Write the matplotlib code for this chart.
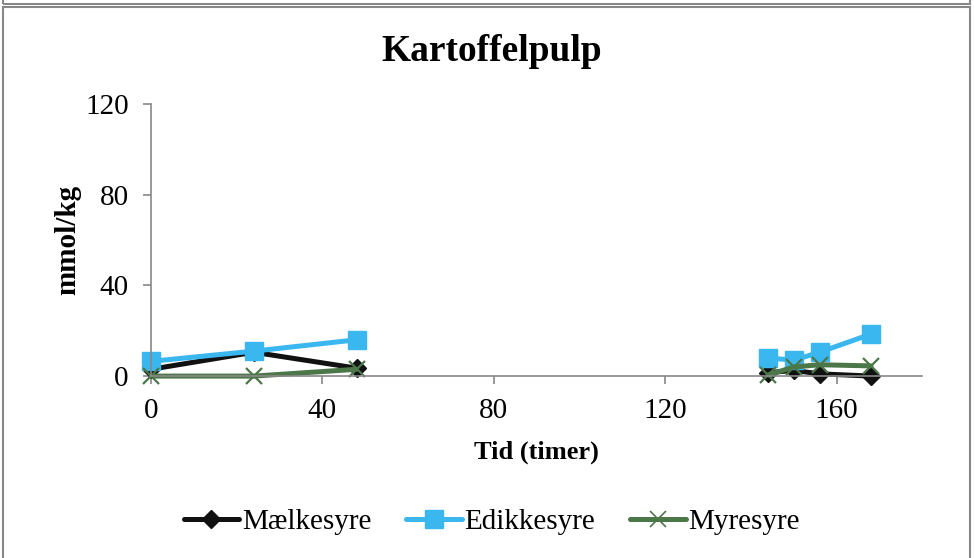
import matplotlib.pyplot as plt
from matplotlib.patches import Rectangle
from matplotlib.lines import Line2D

plt.rcParams["font.family"] = ["Liberation Serif", "DejaVu Serif"]

# sampling times in hours, two runs separated by a pause
tid_a = [0, 24, 48]
tid_b = [144, 150, 156, 168]

maelkesyre_a = [3.0, 10.5, 3.5]
maelkesyre_b = [1.5, 2.5, 1.0, 0.0]
edikkesyre_a = [6.5, 11.0, 16.0]
edikkesyre_b = [8.0, 7.0, 10.5, 18.5]
myresyre_a = [0.0, 0.0, 3.0]
myresyre_b = [0.5, 4.0, 5.0, 4.5]

series = [
    ("Mælkesyre", maelkesyre_a, maelkesyre_b, "#111111", "D", 9),
    ("Edikkesyre", edikkesyre_a, edikkesyre_b, "#3BB7F0", "s", 13),
    ("Myresyre", myresyre_a, myresyre_b, "#4B7749", "x", 11),
]

fig = plt.figure(figsize=(9.74, 5.58), dpi=100)

# chart frame plus the edge of the chart above it
fig.patches.append(Rectangle((0.003, -0.01), 0.993, 0.997, transform=fig.transFigure,
                             fill=False, edgecolor="#888888", lw=1.5))
fig.patches.append(Rectangle((0.003, 0.992), 0.993, 0.05, transform=fig.transFigure,
                             fill=False, edgecolor="#888888", lw=1.5))

ax = fig.add_axes([0.155, 0.326, 0.792, 0.488])

handles = []
for name, ya, yb, color, marker, ms in series:
    mew = 1.6 if marker == "x" else 1
    for xs, ys in ((tid_a, ya), (tid_b, yb)):
        ax.plot(xs, ys, color=color, lw=3.6, marker=marker, markersize=ms,
                markeredgewidth=mew, markeredgecolor=color, solid_capstyle="round")
    handles.append(Line2D([], [], color=color, lw=3.6, marker=marker, markersize=ms,
                          markeredgewidth=1.2 if marker == "x" else 1, markeredgecolor=color,
                          solid_capstyle="round", label=name))

ax.set_xlim(0, 180)
ax.set_ylim(0, 120)
ax.set_xticks([0, 40, 80, 120, 160])
ax.set_yticks([0, 40, 80, 120])
ax.margins(0)

for side in ("top", "right"):
    ax.spines[side].set_visible(False)
for side in ("left", "bottom"):
    ax.spines[side].set_color("#888888")
    ax.spines[side].set_linewidth(1.2)
ax.tick_params(axis="both", direction="out", length=6, width=1.2, color="#888888",
               labelsize=21)
ax.tick_params(axis="y", pad=10)
ax.tick_params(axis="x", pad=10)
for lbl in ax.get_xticklabels() + ax.get_yticklabels():
    lbl.set_clip_on(False)

ax.set_xlabel("Tid (timer)", fontsize=19, fontweight="bold", labelpad=12)
ax.set_ylabel("mmol/kg", fontsize=21, fontweight="bold", labelpad=3)
fig.text(0.505, 0.907, "Kartoffelpulp", ha="center", va="center",
         fontsize=27, fontweight="bold")

fig.legend(handles=handles, loc="center", bbox_to_anchor=(0.505, 0.064), ncol=3,
           frameon=False, fontsize=21, handlelength=1.9, handletextpad=0.1,
           columnspacing=1.2)

for line in ax.lines:
    line.set_clip_on(False)

fig.savefig("out.png", dpi=100)
